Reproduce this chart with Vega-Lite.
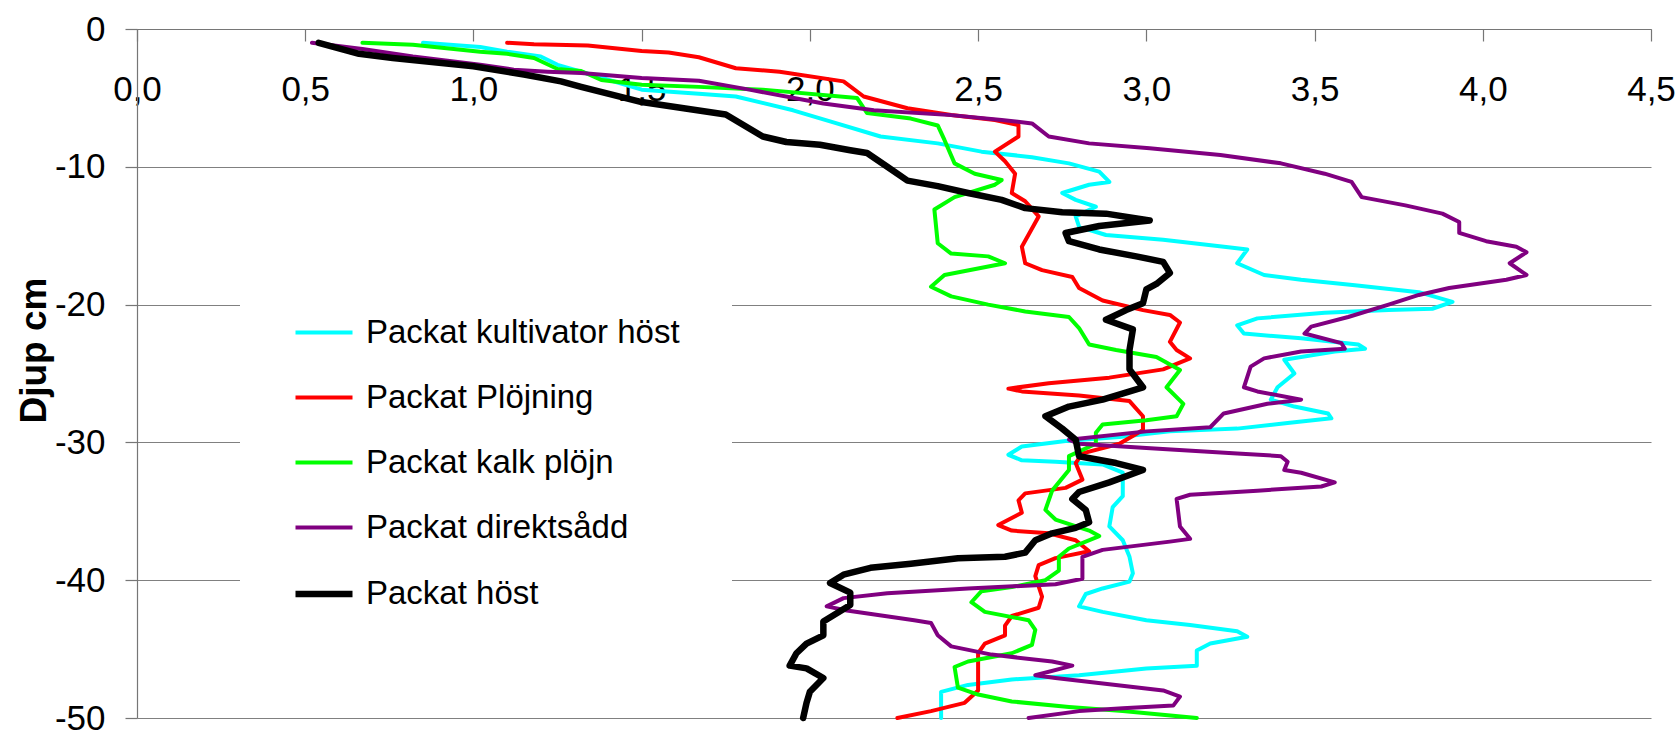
{
"$schema": "https://vega.github.io/schema/vega-lite/v6.json",
"width": 1514, "height": 689,
"autosize": {"type": "none"},
"padding": {"left": 137, "top": 29, "right": 29, "bottom": 14},
"background": "white",
"config": {"view": {"stroke": null}, "font": "Liberation Sans"},
"data": {"values": [
{"s":"Packat kultivator höst","x":0.85,"d":-1.0},{"s":"Packat kultivator höst","x":1.02,"d":-1.3},{"s":"Packat kultivator höst","x":1.10,"d":-1.65},{"s":"Packat kultivator höst","x":1.20,"d":-2.0},{"s":"Packat kultivator höst","x":1.25,"d":-2.6},{"s":"Packat kultivator höst","x":1.32,"d":-3.1},{"s":"Packat kultivator höst","x":1.50,"d":-4.4},{"s":"Packat kultivator höst","x":1.67,"d":-4.7},{"s":"Packat kultivator höst","x":1.78,"d":-4.9},{"s":"Packat kultivator höst","x":1.95,"d":-5.9},{"s":"Packat kultivator höst","x":2.06,"d":-6.7},{"s":"Packat kultivator höst","x":2.21,"d":-7.8},{"s":"Packat kultivator höst","x":2.38,"d":-8.3},{"s":"Packat kultivator höst","x":2.51,"d":-8.9},{"s":"Packat kultivator höst","x":2.66,"d":-9.3},{"s":"Packat kultivator höst","x":2.77,"d":-9.75},{"s":"Packat kultivator höst","x":2.86,"d":-10.35},{"s":"Packat kultivator höst","x":2.89,"d":-11.1},{"s":"Packat kultivator höst","x":2.83,"d":-11.3},{"s":"Packat kultivator höst","x":2.75,"d":-11.9},{"s":"Packat kultivator höst","x":2.79,"d":-12.4},{"s":"Packat kultivator höst","x":2.85,"d":-12.9},{"s":"Packat kultivator höst","x":2.79,"d":-13.6},{"s":"Packat kultivator höst","x":2.80,"d":-14.35},{"s":"Packat kultivator höst","x":2.88,"d":-14.95},{"s":"Packat kultivator höst","x":3.05,"d":-15.3},{"s":"Packat kultivator höst","x":3.25,"d":-15.85},{"s":"Packat kultivator höst","x":3.30,"d":-16.0},{"s":"Packat kultivator höst","x":3.27,"d":-17.0},{"s":"Packat kultivator höst","x":3.35,"d":-17.85},{"s":"Packat kultivator höst","x":3.46,"d":-18.2},{"s":"Packat kultivator höst","x":3.62,"d":-18.6},{"s":"Packat kultivator höst","x":3.81,"d":-19.1},{"s":"Packat kultivator höst","x":3.91,"d":-19.8},{"s":"Packat kultivator höst","x":3.85,"d":-20.3},{"s":"Packat kultivator höst","x":3.72,"d":-20.4},{"s":"Packat kultivator höst","x":3.53,"d":-20.6},{"s":"Packat kultivator höst","x":3.33,"d":-21.0},{"s":"Packat kultivator höst","x":3.27,"d":-21.5},{"s":"Packat kultivator höst","x":3.29,"d":-22.1},{"s":"Packat kultivator höst","x":3.46,"d":-22.45},{"s":"Packat kultivator höst","x":3.63,"d":-22.9},{"s":"Packat kultivator höst","x":3.65,"d":-23.2},{"s":"Packat kultivator höst","x":3.56,"d":-23.4},{"s":"Packat kultivator höst","x":3.41,"d":-24.0},{"s":"Packat kultivator höst","x":3.44,"d":-25.0},{"s":"Packat kultivator höst","x":3.39,"d":-26.0},{"s":"Packat kultivator höst","x":3.37,"d":-26.9},{"s":"Packat kultivator höst","x":3.44,"d":-27.4},{"s":"Packat kultivator höst","x":3.54,"d":-27.9},{"s":"Packat kultivator höst","x":3.55,"d":-28.25},{"s":"Packat kultivator höst","x":3.42,"d":-28.6},{"s":"Packat kultivator höst","x":3.27,"d":-29.0},{"s":"Packat kultivator höst","x":3.07,"d":-29.2},{"s":"Packat kultivator höst","x":2.92,"d":-29.6},{"s":"Packat kultivator höst","x":2.76,"d":-29.9},{"s":"Packat kultivator höst","x":2.63,"d":-30.3},{"s":"Packat kultivator höst","x":2.59,"d":-30.9},{"s":"Packat kultivator höst","x":2.63,"d":-31.3},{"s":"Packat kultivator höst","x":2.73,"d":-31.4},{"s":"Packat kultivator höst","x":2.87,"d":-31.6},{"s":"Packat kultivator höst","x":2.93,"d":-32.2},{"s":"Packat kultivator höst","x":2.93,"d":-33.9},{"s":"Packat kultivator höst","x":2.90,"d":-34.7},{"s":"Packat kultivator höst","x":2.89,"d":-36.1},{"s":"Packat kultivator höst","x":2.93,"d":-37.1},{"s":"Packat kultivator höst","x":2.95,"d":-38.3},{"s":"Packat kultivator höst","x":2.96,"d":-39.5},{"s":"Packat kultivator höst","x":2.95,"d":-40.1},{"s":"Packat kultivator höst","x":2.87,"d":-40.6},{"s":"Packat kultivator höst","x":2.82,"d":-41.0},{"s":"Packat kultivator höst","x":2.80,"d":-41.9},{"s":"Packat kultivator höst","x":2.87,"d":-42.3},{"s":"Packat kultivator höst","x":3.00,"d":-42.9},{"s":"Packat kultivator höst","x":3.13,"d":-43.25},{"s":"Packat kultivator höst","x":3.27,"d":-43.7},{"s":"Packat kultivator höst","x":3.30,"d":-44.1},{"s":"Packat kultivator höst","x":3.19,"d":-44.6},{"s":"Packat kultivator höst","x":3.15,"d":-45.1},{"s":"Packat kultivator höst","x":3.15,"d":-46.2},{"s":"Packat kultivator höst","x":3.00,"d":-46.4},{"s":"Packat kultivator höst","x":2.80,"d":-46.9},{"s":"Packat kultivator höst","x":2.60,"d":-47.2},{"s":"Packat kultivator höst","x":2.47,"d":-47.6},{"s":"Packat kultivator höst","x":2.39,"d":-48.1},{"s":"Packat kultivator höst","x":2.39,"d":-50.0},
{"s":"Packat Plöjning","x":1.10,"d":-1.0},{"s":"Packat Plöjning","x":1.18,"d":-1.1},{"s":"Packat Plöjning","x":1.34,"d":-1.2},{"s":"Packat Plöjning","x":1.50,"d":-1.6},{"s":"Packat Plöjning","x":1.58,"d":-1.7},{"s":"Packat Plöjning","x":1.67,"d":-2.05},{"s":"Packat Plöjning","x":1.78,"d":-2.85},{"s":"Packat Plöjning","x":1.91,"d":-3.1},{"s":"Packat Plöjning","x":2.10,"d":-3.8},{"s":"Packat Plöjning","x":2.16,"d":-4.9},{"s":"Packat Plöjning","x":2.29,"d":-5.75},{"s":"Packat Plöjning","x":2.42,"d":-6.24},{"s":"Packat Plöjning","x":2.55,"d":-6.6},{"s":"Packat Plöjning","x":2.62,"d":-6.97},{"s":"Packat Plöjning","x":2.62,"d":-7.8},{"s":"Packat Plöjning","x":2.55,"d":-8.9},{"s":"Packat Plöjning","x":2.58,"d":-9.6},{"s":"Packat Plöjning","x":2.61,"d":-10.5},{"s":"Packat Plöjning","x":2.60,"d":-11.9},{"s":"Packat Plöjning","x":2.64,"d":-12.5},{"s":"Packat Plöjning","x":2.68,"d":-13.6},{"s":"Packat Plöjning","x":2.63,"d":-15.8},{"s":"Packat Plöjning","x":2.64,"d":-17.0},{"s":"Packat Plöjning","x":2.69,"d":-17.5},{"s":"Packat Plöjning","x":2.78,"d":-18.0},{"s":"Packat Plöjning","x":2.80,"d":-18.8},{"s":"Packat Plöjning","x":2.87,"d":-19.7},{"s":"Packat Plöjning","x":2.99,"d":-20.4},{"s":"Packat Plöjning","x":3.07,"d":-20.75},{"s":"Packat Plöjning","x":3.10,"d":-21.3},{"s":"Packat Plöjning","x":3.07,"d":-22.7},{"s":"Packat Plöjning","x":3.09,"d":-23.3},{"s":"Packat Plöjning","x":3.13,"d":-23.9},{"s":"Packat Plöjning","x":3.05,"d":-24.7},{"s":"Packat Plöjning","x":2.89,"d":-25.3},{"s":"Packat Plöjning","x":2.71,"d":-25.7},{"s":"Packat Plöjning","x":2.59,"d":-26.1},{"s":"Packat Plöjning","x":2.63,"d":-26.3},{"s":"Packat Plöjning","x":2.80,"d":-26.6},{"s":"Packat Plöjning","x":2.95,"d":-27.0},{"s":"Packat Plöjning","x":2.99,"d":-28.1},{"s":"Packat Plöjning","x":2.99,"d":-29.1},{"s":"Packat Plöjning","x":2.92,"d":-30.1},{"s":"Packat Plöjning","x":2.81,"d":-30.8},{"s":"Packat Plöjning","x":2.79,"d":-31.5},{"s":"Packat Plöjning","x":2.81,"d":-32.7},{"s":"Packat Plöjning","x":2.76,"d":-33.3},{"s":"Packat Plöjning","x":2.64,"d":-33.7},{"s":"Packat Plöjning","x":2.62,"d":-34.2},{"s":"Packat Plöjning","x":2.63,"d":-35.1},{"s":"Packat Plöjning","x":2.56,"d":-36.0},{"s":"Packat Plöjning","x":2.60,"d":-36.4},{"s":"Packat Plöjning","x":2.71,"d":-36.6},{"s":"Packat Plöjning","x":2.79,"d":-37.1},{"s":"Packat Plöjning","x":2.83,"d":-37.9},{"s":"Packat Plöjning","x":2.73,"d":-38.4},{"s":"Packat Plöjning","x":2.68,"d":-38.9},{"s":"Packat Plöjning","x":2.67,"d":-39.7},{"s":"Packat Plöjning","x":2.69,"d":-41.2},{"s":"Packat Plöjning","x":2.68,"d":-42.0},{"s":"Packat Plöjning","x":2.60,"d":-42.6},{"s":"Packat Plöjning","x":2.58,"d":-43.3},{"s":"Packat Plöjning","x":2.58,"d":-44.0},{"s":"Packat Plöjning","x":2.52,"d":-44.6},{"s":"Packat Plöjning","x":2.50,"d":-45.3},{"s":"Packat Plöjning","x":2.50,"d":-48.0},{"s":"Packat Plöjning","x":2.46,"d":-48.9},{"s":"Packat Plöjning","x":2.36,"d":-49.5},{"s":"Packat Plöjning","x":2.26,"d":-50.0},
{"s":"Packat kalk plöjn","x":0.67,"d":-1.0},{"s":"Packat kalk plöjn","x":0.82,"d":-1.15},{"s":"Packat kalk plöjn","x":1.02,"d":-1.65},{"s":"Packat kalk plöjn","x":1.10,"d":-1.8},{"s":"Packat kalk plöjn","x":1.18,"d":-2.1},{"s":"Packat kalk plöjn","x":1.25,"d":-2.9},{"s":"Packat kalk plöjn","x":1.32,"d":-3.05},{"s":"Packat kalk plöjn","x":1.38,"d":-3.7},{"s":"Packat kalk plöjn","x":1.50,"d":-4.05},{"s":"Packat kalk plöjn","x":1.67,"d":-4.2},{"s":"Packat kalk plöjn","x":1.86,"d":-4.4},{"s":"Packat kalk plöjn","x":2.14,"d":-5.0},{"s":"Packat kalk plöjn","x":2.17,"d":-6.1},{"s":"Packat kalk plöjn","x":2.30,"d":-6.5},{"s":"Packat kalk plöjn","x":2.38,"d":-7.0},{"s":"Packat kalk plöjn","x":2.40,"d":-8.05},{"s":"Packat kalk plöjn","x":2.43,"d":-9.75},{"s":"Packat kalk plöjn","x":2.49,"d":-10.5},{"s":"Packat kalk plöjn","x":2.57,"d":-10.96},{"s":"Packat kalk plöjn","x":2.55,"d":-11.3},{"s":"Packat kalk plöjn","x":2.43,"d":-12.2},{"s":"Packat kalk plöjn","x":2.37,"d":-13.1},{"s":"Packat kalk plöjn","x":2.38,"d":-15.55},{"s":"Packat kalk plöjn","x":2.42,"d":-16.3},{"s":"Packat kalk plöjn","x":2.53,"d":-16.5},{"s":"Packat kalk plöjn","x":2.58,"d":-17.0},{"s":"Packat kalk plöjn","x":2.40,"d":-17.85},{"s":"Packat kalk plöjn","x":2.36,"d":-18.7},{"s":"Packat kalk plöjn","x":2.42,"d":-19.4},{"s":"Packat kalk plöjn","x":2.53,"d":-20.0},{"s":"Packat kalk plöjn","x":2.64,"d":-20.5},{"s":"Packat kalk plöjn","x":2.77,"d":-20.9},{"s":"Packat kalk plöjn","x":2.80,"d":-21.7},{"s":"Packat kalk plöjn","x":2.83,"d":-22.9},{"s":"Packat kalk plöjn","x":2.91,"d":-23.3},{"s":"Packat kalk plöjn","x":3.03,"d":-23.8},{"s":"Packat kalk plöjn","x":3.10,"d":-24.75},{"s":"Packat kalk plöjn","x":3.06,"d":-26.0},{"s":"Packat kalk plöjn","x":3.11,"d":-27.2},{"s":"Packat kalk plöjn","x":3.09,"d":-28.1},{"s":"Packat kalk plöjn","x":3.00,"d":-28.4},{"s":"Packat kalk plöjn","x":2.87,"d":-28.7},{"s":"Packat kalk plöjn","x":2.85,"d":-29.3},{"s":"Packat kalk plöjn","x":2.85,"d":-30.1},{"s":"Packat kalk plöjn","x":2.77,"d":-31.0},{"s":"Packat kalk plöjn","x":2.77,"d":-32.0},{"s":"Packat kalk plöjn","x":2.72,"d":-33.5},{"s":"Packat kalk plöjn","x":2.70,"d":-34.9},{"s":"Packat kalk plöjn","x":2.73,"d":-35.6},{"s":"Packat kalk plöjn","x":2.83,"d":-36.4},{"s":"Packat kalk plöjn","x":2.86,"d":-36.8},{"s":"Packat kalk plöjn","x":2.77,"d":-37.7},{"s":"Packat kalk plöjn","x":2.74,"d":-38.3},{"s":"Packat kalk plöjn","x":2.74,"d":-39.3},{"s":"Packat kalk plöjn","x":2.70,"d":-40.0},{"s":"Packat kalk plöjn","x":2.60,"d":-40.5},{"s":"Packat kalk plöjn","x":2.51,"d":-40.8},{"s":"Packat kalk plöjn","x":2.48,"d":-41.6},{"s":"Packat kalk plöjn","x":2.52,"d":-42.3},{"s":"Packat kalk plöjn","x":2.65,"d":-42.9},{"s":"Packat kalk plöjn","x":2.67,"d":-43.6},{"s":"Packat kalk plöjn","x":2.66,"d":-44.7},{"s":"Packat kalk plöjn","x":2.60,"d":-45.3},{"s":"Packat kalk plöjn","x":2.47,"d":-45.9},{"s":"Packat kalk plöjn","x":2.43,"d":-46.3},{"s":"Packat kalk plöjn","x":2.44,"d":-47.8},{"s":"Packat kalk plöjn","x":2.50,"d":-48.3},{"s":"Packat kalk plöjn","x":2.60,"d":-48.8},{"s":"Packat kalk plöjn","x":2.77,"d":-49.2},{"s":"Packat kalk plöjn","x":2.93,"d":-49.5},{"s":"Packat kalk plöjn","x":3.15,"d":-50.0},
{"s":"Packat direktsådd","x":0.52,"d":-1.0},{"s":"Packat direktsådd","x":0.67,"d":-1.45},{"s":"Packat direktsådd","x":0.82,"d":-2.0},{"s":"Packat direktsådd","x":1.02,"d":-2.6},{"s":"Packat direktsådd","x":1.12,"d":-2.95},{"s":"Packat direktsådd","x":1.22,"d":-3.1},{"s":"Packat direktsådd","x":1.32,"d":-3.2},{"s":"Packat direktsådd","x":1.50,"d":-3.55},{"s":"Packat direktsådd","x":1.67,"d":-3.75},{"s":"Packat direktsådd","x":1.82,"d":-4.4},{"s":"Packat direktsådd","x":2.04,"d":-5.4},{"s":"Packat direktsådd","x":2.19,"d":-5.9},{"s":"Packat direktsådd","x":2.42,"d":-6.25},{"s":"Packat direktsådd","x":2.57,"d":-6.6},{"s":"Packat direktsådd","x":2.66,"d":-6.85},{"s":"Packat direktsådd","x":2.71,"d":-7.8},{"s":"Packat direktsådd","x":2.83,"d":-8.3},{"s":"Packat direktsådd","x":3.01,"d":-8.65},{"s":"Packat direktsådd","x":3.22,"d":-9.15},{"s":"Packat direktsådd","x":3.40,"d":-9.75},{"s":"Packat direktsådd","x":3.53,"d":-10.5},{"s":"Packat direktsådd","x":3.61,"d":-11.1},{"s":"Packat direktsådd","x":3.64,"d":-12.2},{"s":"Packat direktsådd","x":3.77,"d":-12.8},{"s":"Packat direktsådd","x":3.88,"d":-13.4},{"s":"Packat direktsådd","x":3.93,"d":-14.0},{"s":"Packat direktsådd","x":3.93,"d":-14.8},{"s":"Packat direktsådd","x":4.01,"d":-15.4},{"s":"Packat direktsådd","x":4.10,"d":-15.8},{"s":"Packat direktsådd","x":4.13,"d":-16.2},{"s":"Packat direktsådd","x":4.08,"d":-17.0},{"s":"Packat direktsådd","x":4.13,"d":-17.85},{"s":"Packat direktsådd","x":4.07,"d":-18.2},{"s":"Packat direktsådd","x":3.90,"d":-18.8},{"s":"Packat direktsådd","x":3.81,"d":-19.3},{"s":"Packat direktsådd","x":3.72,"d":-20.0},{"s":"Packat direktsådd","x":3.60,"d":-20.9},{"s":"Packat direktsådd","x":3.49,"d":-21.6},{"s":"Packat direktsådd","x":3.47,"d":-22.1},{"s":"Packat direktsådd","x":3.58,"d":-22.8},{"s":"Packat direktsådd","x":3.59,"d":-23.2},{"s":"Packat direktsådd","x":3.46,"d":-23.4},{"s":"Packat direktsådd","x":3.35,"d":-23.9},{"s":"Packat direktsådd","x":3.31,"d":-24.5},{"s":"Packat direktsådd","x":3.29,"d":-26.0},{"s":"Packat direktsådd","x":3.33,"d":-26.3},{"s":"Packat direktsådd","x":3.46,"d":-26.9},{"s":"Packat direktsådd","x":3.36,"d":-27.2},{"s":"Packat direktsådd","x":3.23,"d":-27.9},{"s":"Packat direktsådd","x":3.19,"d":-28.9},{"s":"Packat direktsådd","x":3.00,"d":-29.2},{"s":"Packat direktsådd","x":2.77,"d":-29.8},{"s":"Packat direktsådd","x":2.80,"d":-30.1},{"s":"Packat direktsådd","x":3.00,"d":-30.4},{"s":"Packat direktsådd","x":3.27,"d":-30.8},{"s":"Packat direktsådd","x":3.40,"d":-31.0},{"s":"Packat direktsådd","x":3.42,"d":-31.4},{"s":"Packat direktsådd","x":3.41,"d":-32.0},{"s":"Packat direktsådd","x":3.46,"d":-32.2},{"s":"Packat direktsådd","x":3.56,"d":-32.9},{"s":"Packat direktsådd","x":3.52,"d":-33.2},{"s":"Packat direktsådd","x":3.33,"d":-33.5},{"s":"Packat direktsådd","x":3.13,"d":-33.8},{"s":"Packat direktsådd","x":3.09,"d":-34.1},{"s":"Packat direktsådd","x":3.10,"d":-36.1},{"s":"Packat direktsådd","x":3.13,"d":-37.0},{"s":"Packat direktsådd","x":3.07,"d":-37.2},{"s":"Packat direktsådd","x":2.87,"d":-37.8},{"s":"Packat direktsådd","x":2.81,"d":-38.3},{"s":"Packat direktsådd","x":2.81,"d":-39.9},{"s":"Packat direktsådd","x":2.73,"d":-40.3},{"s":"Packat direktsådd","x":2.47,"d":-40.6},{"s":"Packat direktsådd","x":2.23,"d":-40.95},{"s":"Packat direktsådd","x":2.10,"d":-41.3},{"s":"Packat direktsådd","x":2.05,"d":-41.9},{"s":"Packat direktsådd","x":2.11,"d":-42.2},{"s":"Packat direktsådd","x":2.31,"d":-42.9},{"s":"Packat direktsådd","x":2.36,"d":-43.1},{"s":"Packat direktsådd","x":2.38,"d":-44.0},{"s":"Packat direktsådd","x":2.42,"d":-44.8},{"s":"Packat direktsådd","x":2.54,"d":-45.4},{"s":"Packat direktsådd","x":2.72,"d":-45.9},{"s":"Packat direktsådd","x":2.78,"d":-46.2},{"s":"Packat direktsådd","x":2.67,"d":-46.9},{"s":"Packat direktsådd","x":2.73,"d":-47.1},{"s":"Packat direktsådd","x":3.05,"d":-48.0},{"s":"Packat direktsådd","x":3.10,"d":-48.45},{"s":"Packat direktsådd","x":3.08,"d":-49.1},{"s":"Packat direktsådd","x":2.93,"d":-49.3},{"s":"Packat direktsådd","x":2.80,"d":-49.5},{"s":"Packat direktsådd","x":2.65,"d":-50.0},
{"s":"Packat höst","x":0.54,"d":-1.0},{"s":"Packat höst","x":0.66,"d":-1.8},{"s":"Packat höst","x":0.76,"d":-2.1},{"s":"Packat höst","x":1.00,"d":-2.7},{"s":"Packat höst","x":1.15,"d":-3.3},{"s":"Packat höst","x":1.26,"d":-3.8},{"s":"Packat höst","x":1.32,"d":-4.2},{"s":"Packat höst","x":1.50,"d":-5.3},{"s":"Packat höst","x":1.64,"d":-5.8},{"s":"Packat höst","x":1.75,"d":-6.2},{"s":"Packat höst","x":1.86,"d":-7.8},{"s":"Packat höst","x":1.93,"d":-8.2},{"s":"Packat höst","x":2.03,"d":-8.4},{"s":"Packat höst","x":2.12,"d":-8.8},{"s":"Packat höst","x":2.17,"d":-9.0},{"s":"Packat höst","x":2.23,"d":-10.0},{"s":"Packat höst","x":2.29,"d":-11.0},{"s":"Packat höst","x":2.38,"d":-11.4},{"s":"Packat höst","x":2.47,"d":-11.9},{"s":"Packat höst","x":2.57,"d":-12.4},{"s":"Packat höst","x":2.64,"d":-13.0},{"s":"Packat höst","x":2.75,"d":-13.3},{"s":"Packat höst","x":2.88,"d":-13.4},{"s":"Packat höst","x":3.01,"d":-13.9},{"s":"Packat höst","x":2.86,"d":-14.3},{"s":"Packat höst","x":2.76,"d":-14.8},{"s":"Packat höst","x":2.77,"d":-15.4},{"s":"Packat höst","x":2.86,"d":-16.0},{"s":"Packat höst","x":2.97,"d":-16.5},{"s":"Packat höst","x":3.05,"d":-16.9},{"s":"Packat höst","x":3.07,"d":-17.7},{"s":"Packat höst","x":3.03,"d":-18.5},{"s":"Packat höst","x":3.00,"d":-18.9},{"s":"Packat höst","x":2.99,"d":-19.9},{"s":"Packat höst","x":2.94,"d":-20.4},{"s":"Packat höst","x":2.88,"d":-21.1},{"s":"Packat höst","x":2.96,"d":-21.8},{"s":"Packat höst","x":2.95,"d":-23.3},{"s":"Packat höst","x":2.95,"d":-24.7},{"s":"Packat höst","x":2.99,"d":-26.0},{"s":"Packat höst","x":2.87,"d":-26.9},{"s":"Packat höst","x":2.77,"d":-27.4},{"s":"Packat höst","x":2.70,"d":-28.1},{"s":"Packat höst","x":2.75,"d":-29.0},{"s":"Packat höst","x":2.79,"d":-29.8},{"s":"Packat höst","x":2.80,"d":-31.0},{"s":"Packat höst","x":2.91,"d":-31.5},{"s":"Packat höst","x":2.99,"d":-32.0},{"s":"Packat höst","x":2.89,"d":-32.9},{"s":"Packat höst","x":2.80,"d":-33.6},{"s":"Packat höst","x":2.78,"d":-34.1},{"s":"Packat höst","x":2.82,"d":-34.9},{"s":"Packat höst","x":2.83,"d":-35.8},{"s":"Packat höst","x":2.79,"d":-36.2},{"s":"Packat höst","x":2.72,"d":-36.6},{"s":"Packat höst","x":2.67,"d":-37.1},{"s":"Packat höst","x":2.64,"d":-38.0},{"s":"Packat höst","x":2.58,"d":-38.3},{"s":"Packat höst","x":2.44,"d":-38.4},{"s":"Packat höst","x":2.30,"d":-38.8},{"s":"Packat höst","x":2.18,"d":-39.1},{"s":"Packat höst","x":2.10,"d":-39.6},{"s":"Packat höst","x":2.06,"d":-40.2},{"s":"Packat höst","x":2.12,"d":-40.9},{"s":"Packat höst","x":2.12,"d":-41.8},{"s":"Packat höst","x":2.04,"d":-43.0},{"s":"Packat höst","x":2.04,"d":-44.0},{"s":"Packat höst","x":1.99,"d":-44.6},{"s":"Packat höst","x":1.96,"d":-45.3},{"s":"Packat höst","x":1.94,"d":-46.2},{"s":"Packat höst","x":1.99,"d":-46.4},{"s":"Packat höst","x":2.04,"d":-47.1},{"s":"Packat höst","x":2.00,"d":-48.1},{"s":"Packat höst","x":1.99,"d":-48.9},{"s":"Packat höst","x":1.98,"d":-50.0}
]},
"mark": {"type": "line", "strokeJoin": "round", "strokeCap": "round"},
"encoding": {
"x": {"field": "x", "type": "quantitative",
  "scale": {"domain": [0, 4.5], "nice": false, "zero": false},
  "axis": {"orient": "top", "values": [0, 0.5, 1, 1.5, 2, 2.5, 3, 3.5, 4, 4.5], "title": null, "grid": false,
    "domainColor": "#767676", "domainWidth": 1.2, "tickColor": "#767676", "tickWidth": 1.2, "tickSize": -12,
    "labelPadding": -59, "labelBaseline": "alphabetic", "labelFontSize": 35, "labelColor": "black",
    "labelFlush": false, "labelOverlap": false, "labelExpr": "replace(format(datum.value, '.1f'), '.', ',')"}},
"y": {"field": "d", "type": "quantitative",
  "scale": {"domain": [-50, 0], "nice": false, "zero": false},
  "axis": {"values": [0, -10, -20, -30, -40, -50], "title": "Djup cm", "titleFontSize": 37, "titleFontWeight": "bold",
    "titleColor": "black", "titleAngle": 270, "titleX": -92, "titleY": 321, "titleAlign": "center", "titleBaseline": "alphabetic",
    "grid": true, "gridColor": "#808080", "gridWidth": 1.2,
    "domainColor": "#767676", "domainWidth": 1.2, "tickColor": "#767676", "tickWidth": 1.2, "tickSize": 12,
    "labelPadding": 20, "labelFontSize": 35, "labelColor": "black", "labelFlush": false, "labelOverlap": false,
    "labelExpr": "'' + datum.value"}},
"color": {"field": "s", "type": "nominal",
  "scale": {"domain": ["Packat kultivator höst", "Packat Plöjning", "Packat kalk plöjn", "Packat direktsådd", "Packat höst"],
            "range": ["#00FFFF", "#FF0000", "#00FF00", "#800080", "#000000"]},
  "legend": {"title": null, "orient": "none", "legendX": 103, "legendY": 221, "fillColor": "white", "padding": 52,
    "symbolType": "stroke", "symbolSize": 3249, "labelFontSize": 33, "labelColor": "black", "labelOffset": 10,
    "rowPadding": 17, "labelLimit": 700}},
"strokeWidth": {"field": "s", "type": "ordinal",
  "scale": {"type": "ordinal", "domain": ["Packat kultivator höst", "Packat Plöjning", "Packat kalk plöjn", "Packat direktsådd", "Packat höst"],
            "range": [4, 4, 4, 4, 6.5]},
  "legend": {"title": null, "orient": "none", "legendX": 103, "legendY": 221, "fillColor": "white", "padding": 52,
    "symbolType": "stroke", "symbolSize": 3249, "labelFontSize": 33, "labelColor": "black", "labelOffset": 10,
    "rowPadding": 17, "labelLimit": 700}},
"order": {"field": "d", "sort": "descending"}
}
}
